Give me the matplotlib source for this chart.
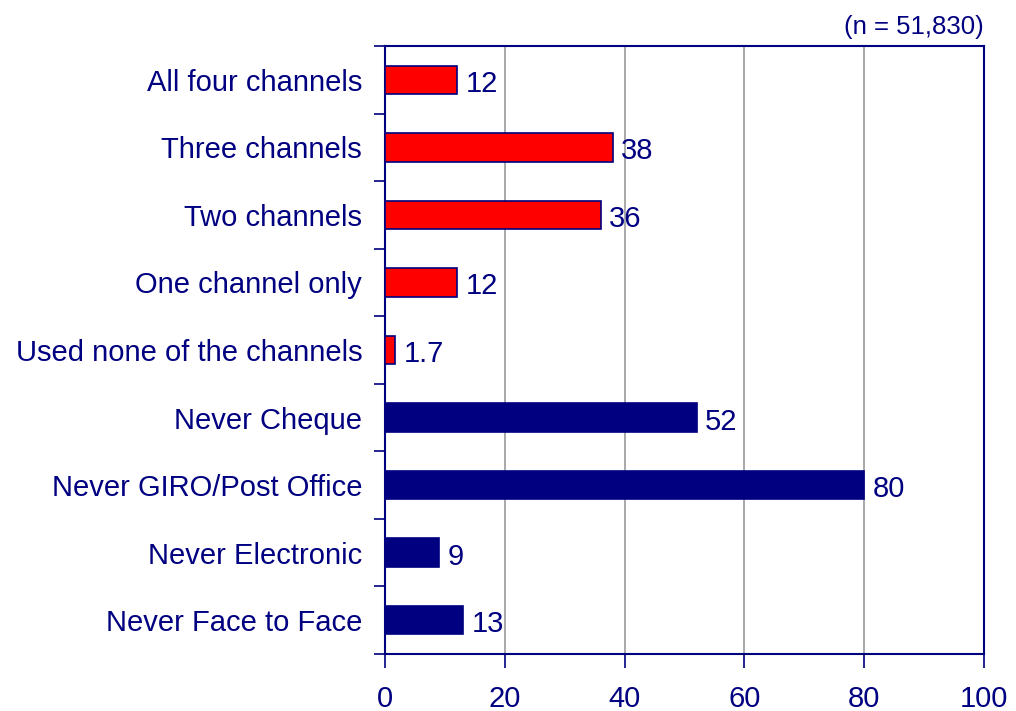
import matplotlib.pyplot as plt
import numpy as np

plt.rcParams['font.family'] = ['Liberation Sans', 'DejaVu Sans']

categories = ['All four channels', 'Three channels', 'Two channels', 'One channel only',
              'Used none of the channels', 'Never Cheque', 'Never GIRO/Post Office',
              'Never Electronic', 'Never Face to Face']
values = [12, 38, 36, 12, 1.7, 52, 80, 9, 13]
value_labels = ['12', '38', '36', '12', '1.7', '52', '80', '9', '13']
is_red = [True, True, True, True, True, False, False, False, False]

navy = '#000080'
red = '#FF0000'

fig = plt.figure(figsize=(10.16, 7.11), dpi=100)
ax = fig.add_axes([0.379, 0.0802, 0.5895, 0.8551])

y = np.arange(len(categories))
colors = [red if r else navy for r in is_red]
ax.barh(y, values, height=0.42, color=colors, edgecolor=navy, linewidth=1.2, zorder=3)

# labels nudged down a little so the digits sit centred on the bar
for yi, v, lab in zip(y, values, value_labels):
    ax.text(v + 1.4, yi + 0.06, lab, va='center', ha='left', fontsize=21, color=navy, zorder=4)

ax.set_xlim(0, 100)
ax.set_ylim(len(categories) - 0.5, -0.5)
ax.set_xticks([0, 20, 40, 60, 80, 100])
ax.set_yticks(y)
ax.set_yticklabels(categories)
ax.set_yticks(np.arange(-0.5, len(categories), 1), minor=True)
ax.tick_params(axis='y', which='major', length=0, pad=16.5, labelsize=21, labelcolor=navy)
ax.tick_params(axis='y', which='minor', length=8, width=1.2, color=navy, direction='out')
ax.tick_params(axis='x', length=10, width=1.2, color=navy, pad=12, labelsize=21, labelcolor=navy)

ax.xaxis.grid(True, color='#999999', linewidth=1.2, zorder=0)
for s in ax.spines.values():
    s.set_color(navy)
    s.set_linewidth(1.5)

fig.text(0.968, 0.962, '(n = 51,830)', ha='right', va='center', fontsize=18.5, color=navy)

fig.savefig('out.png', dpi=100)
